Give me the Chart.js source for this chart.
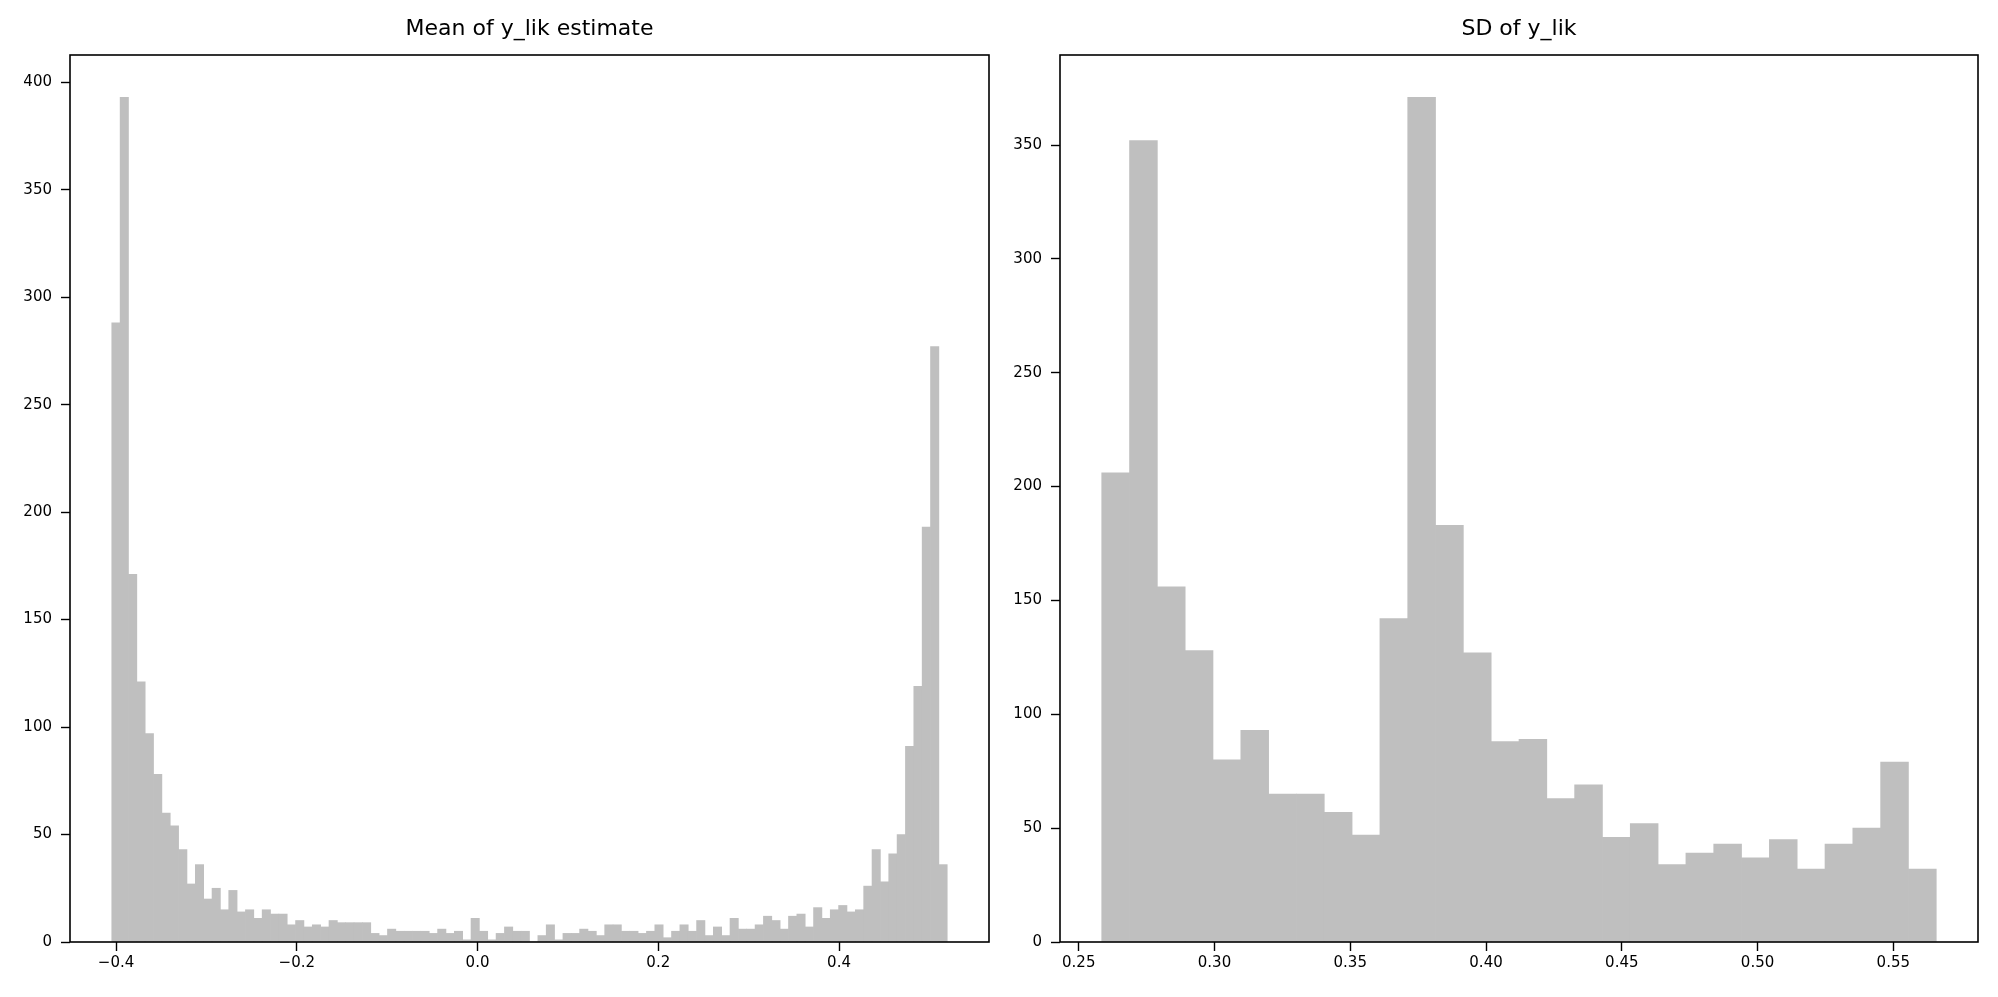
<!DOCTYPE html>
<html><head><meta charset="utf-8">
<script src="https://cdn.jsdelivr.net/npm/chart.js@4.4.1/dist/chart.umd.min.js"></script>
<style>
html,body{margin:0;padding:0;background:#fff;overflow:hidden;}
#wrap{position:relative;width:1998px;height:997px;background:#fff;}
canvas{position:absolute;top:0;}
#c1{left:0;} #c2{left:1000px;}
</style></head><body>
<div id="wrap"><canvas id="c1" width="1000" height="997"></canvas><canvas id="c2" width="998" height="997"></canvas></div>
<script>
// ---- Left panel: Mean of y_lik estimate (100 bins) ----
const meanTitle = 'Mean of y_lik estimate';
const meanBinStart = -0.4047;
const meanBinWidth = 0.009244;
const meanCounts = [
  288, 393, 171, 121, 97, 78, 60, 54, 43, 27,
  36, 20, 25, 15, 24, 14, 15, 11, 15, 13,
  13, 8, 10, 7, 8, 7, 10, 9, 9, 9,
  9, 4, 3, 6, 5, 5, 5, 5, 4, 6,
  4, 5, 1, 11, 5, 1, 4, 7, 5, 5,
  0, 3, 8, 1, 4, 4, 6, 5, 3, 8,
  8, 5, 5, 4, 5, 8, 2, 5, 8, 5,
  10, 3, 7, 3, 11, 6, 6, 8, 12, 10,
  6, 12, 13, 7, 16, 11, 15, 17, 14, 15,
  26, 43, 28, 41, 50, 91, 119, 193, 277, 36
];
const meanXTicks = [-0.4, -0.2, 0.0, 0.2, 0.4];
const meanYTicks = [0, 50, 100, 150, 200, 250, 300, 350, 400];

// ---- Right panel: SD of y_lik (30 bins) ----
const sdTitle = 'SD of y_lik';
const sdBinStart = 0.25847;
const sdBinWidth = 0.010245;
const sdCounts = [
  206, 352, 156, 128, 80, 93, 65, 65, 57, 47,
  142, 371, 183, 127, 88, 89, 63, 69, 46, 52,
  34, 39, 43, 37, 45, 32, 43, 50, 79, 32
];
const sdXTicks = [0.25, 0.30, 0.35, 0.40, 0.45, 0.50, 0.55];
const sdYTicks = [0, 50, 100, 150, 200, 250, 300, 350];

const BAR_COLOR = '#bfbfbf';
Chart.defaults.font.family = "'DejaVu Sans', sans-serif";
Chart.defaults.color = '#000';

const framePlugin = {
  id: 'frame',
  afterDatasetsDraw(chart) {
    const {ctx, chartArea: a} = chart;
    ctx.save();
    ctx.strokeStyle = '#000';
    ctx.lineWidth = 1.6;
    ctx.strokeRect(a.left, a.top, a.right - a.left, a.bottom - a.top);
    ctx.restore();
  }
};

function fmt(v, dec) {
  return v.toFixed(dec).replace('-', '\u2212');
}

function makeHist(canvasId, title, start, width, counts, xTicks, yTicks, xDec, yAxisWidth, padRight) {
  const n = counts.length;
  const lo = start, hi = start + n * width;
  const margin = 0.05 * (hi - lo);
  const ymax = Math.max(...counts) * 1.05;
  const points = counts.map((c, i) => ({x: start + (i + 0.5) * width, y: c}));
  const tickFont = {size: 15, family: "'DejaVu Sans', sans-serif"};
  const gridX = {display: true, offset: false, drawOnChartArea: false, drawTicks: true, tickLength: 9, tickWidth: 1.4, tickColor: '#000'};
  const gridY = {display: true, offset: false, drawOnChartArea: false, drawTicks: true, tickLength: 9, tickWidth: 1.4, tickColor: '#000'};
  return new Chart(document.getElementById(canvasId), {
    type: 'bar',
    data: {datasets: [{data: points, backgroundColor: BAR_COLOR, borderWidth: 0, barPercentage: 1.0, categoryPercentage: 1.0}]},
    options: {
      responsive: false, animation: false, devicePixelRatio: 1,
      layout: {padding: {left: 0, right: padRight, top: 0, bottom: 0}},
      plugins: {
        legend: {display: false}, tooltip: {enabled: false},
        title: {display: true, text: title, fullSize: false, color: '#000',
          font: {size: 22, weight: 'normal', family: "'DejaVu Sans', sans-serif"},
          padding: {top: 16, bottom: 12.6}}
      },
      scales: {
        x: {
          type: 'linear', min: lo - margin, max: hi + margin, offset: false,
          grid: gridX, border: {display: false},
          afterBuildTicks: s => { s.ticks = xTicks.map(v => ({value: v})); },
          afterFit: s => { s.height = 55; },
          ticks: {font: tickFont, color: '#000', padding: 3, maxRotation: 0, autoSkip: false,
            callback: v => fmt(v, xDec)}
        },
        y: {
          type: 'linear', min: 0, max: ymax,
          grid: gridY, border: {display: false},
          afterBuildTicks: s => { s.ticks = yTicks.map(v => ({value: v})); },
          afterFit: s => { s.width = yAxisWidth; },
          ticks: {font: tickFont, color: '#000', padding: 9, autoSkip: false,
            callback: v => String(v)}
        }
      }
    },
    plugins: [framePlugin]
  });
}

makeHist('c1', meanTitle, meanBinStart, meanBinWidth, meanCounts, meanXTicks, meanYTicks, 1, 70, 11);
makeHist('c2', sdTitle, sdBinStart, sdBinWidth, sdCounts, sdXTicks, sdYTicks, 2, 60, 20);
</script>
</body></html>
